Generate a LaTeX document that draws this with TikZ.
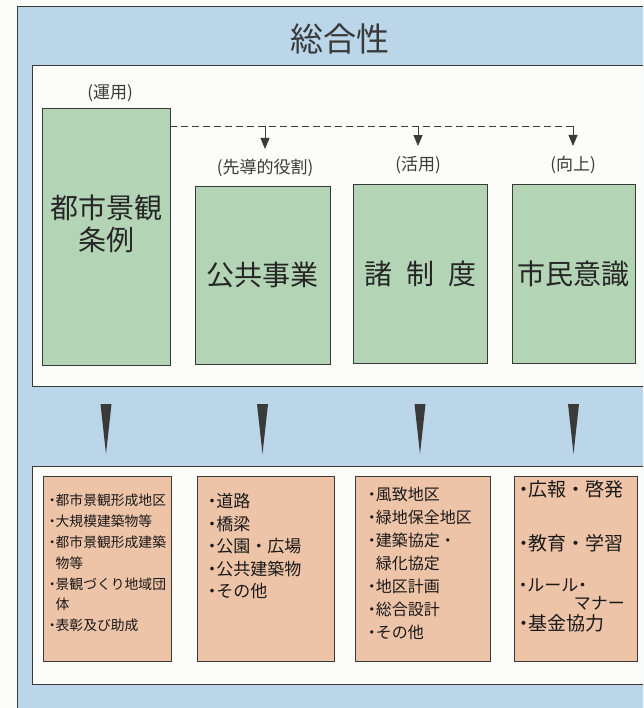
\documentclass[tikz,border=0pt]{standalone}
\usepackage{fontspec}
\setmainfont{Noto Sans CJK JP}
\usetikzlibrary{arrows.meta}

\definecolor{frameblue}{HTML}{BAD6E8}
\definecolor{boxgreen}{HTML}{B4D4B6}
\definecolor{boxorange}{HTML}{EEC4A8}
\definecolor{panelwhite}{HTML}{FCFCF8}
\definecolor{inkgray}{HTML}{3A3A3A}
\newcommand{\bul}{\makebox[.5em][c]{・}}
\newcommand{\fs}[2]{\fontsize{#1}{#2}\selectfont}

\begin{document}
\begin{tikzpicture}[x=1pt, y=-1pt,
  panel/.style={draw=inkgray, line width=1pt, fill=panelwhite},
  greenbox/.style={draw=inkgray, line width=0.9pt, fill=boxgreen, inner sep=0pt},
  orangebox/.style={draw=inkgray, line width=0.9pt, fill=boxorange, inner sep=0pt},
  role/.style={font=\fs{17}{20}, text=inkgray, inner sep=1pt},
  bigtext/.style={font=\fs{28}{32}, text=black!85},
  listtext/.style={anchor=north west, align=left, inner sep=0pt, text=black!90},
  dashline/.style={draw=inkgray, line width=0.8pt, dash pattern=on 7pt off 4pt},
  guide/.style={draw=inkgray, line width=0.8pt, -{Triangle[width=9pt,length=11pt]}, shorten >=9pt},
  wedge/.style={fill=inkgray}
]
\useasboundingbox (0,0) rectangle (643,708);
\clip (0,0) rectangle (643,708);
\fill[panelwhite] (0,0) rectangle (643,708);

% frame and the two panels
\draw[fill=frameblue, draw=inkgray, line width=1pt] (17,7) rectangle (690,740);
\draw[panel] (32,66) rectangle (690,386);
\draw[panel] (32,466) rectangle (690,684);

\node (title) at (340,39) [font=\fs{33}{36}, text=inkgray] {総合性};

% upper row
\node (A) at (106,236.5) [greenbox, minimum width=128pt, minimum height=257pt] {};
\node (Atext) at (106,224) [bigtext, align=center] {都市景観\\条例};
\node (B) at (262.5,275) [greenbox, bigtext, minimum width=135pt, minimum height=178pt] {公共事業};
\node (C) at (420,273.5) [greenbox, bigtext, minimum width=134pt, minimum height=179pt] {諸\hspace{.5em}制\hspace{.5em}度};
\node (D) at (573.5,273.5) [greenbox, bigtext, minimum width=123pt, minimum height=179pt] {市民意識};

\node (use) at (110,93) [role] {(運用)};
\node (lead) at (265,168) [role] {(先導的役割)};
\node (apply) at (418,165) [role] {(活用)};
\node (raise) at (573,165) [role] {(向上)};

\coordinate (start) at (A.east |- 0,126);
\coordinate (j1) at (lead.north |- start);
\coordinate (j2) at (apply.north |- start);
\coordinate (j3) at (raise.north |- start);

\draw (start) edge [dashline] (j3);
\draw (j1) edge [guide] (lead.north);
\draw (j2) edge [guide] (apply.north);
\draw (j3) edge [guide] (raise.north);

% lower row
\node (O1) at (107,568.5) [orangebox, minimum width=128pt, minimum height=185pt] {};
\node (O2) at (265.5,568.5) [orangebox, minimum width=137pt, minimum height=185pt] {};
\node (O3) at (422.5,568.5) [orangebox, minimum width=135pt, minimum height=185pt] {};
\node (O4) at (575.5,568.5) [orangebox, minimum width=123pt, minimum height=185pt] {};

\foreach \n in {A,B,C,D}
  \fill[wedge] ([xshift=-5.5pt]\n.south |- 0,404) -- ([xshift=5.5pt]\n.south |- 0,404) -- (\n.south |- 0,454) -- cycle;

\node (L1) at ([shift={(6,18.5)}]O1.north west) [listtext, font=\fs{13.8}{20.8}]
  {\bul 都市景観形成地区\\\bul 大規模建築物等\\\bul 都市景観形成建築\\\hphantom{\bul}物等\\\bul 景観づくり地域団\\\hphantom{\bul}体\\\bul 表彰及び助成};
\node (L2) at ([shift={(11,17.5)}]O2.north west) [listtext, font=\fs{17}{22.5}]
  {\bul 道路\\\bul 橋梁\\\bul 公園・広場\\\bul 公共建築物\\\bul その他};
\node (L3) at ([shift={(13,11)}]O3.north west) [listtext, font=\fs{16}{23}]
  {\bul 風致地区\\\bul 緑地保全地区\\\bul 建築協定・\\\hphantom{\bul}緑化協定\\\bul 地区計画\\\bul 総合設計\\\bul その他};
\node (L4) at ([shift={(5,4.5)}]O4.north west) [listtext, font=\fs{19}{21}]
  {\bul 広報・啓発\\[33pt]\bul 教育・学習\\[20pt]{\fs{17}{18}\bul ルール\bul}\\[-3pt]\hspace*{2.9em}{\fs{17}{18}マナー}\\\bul 基金協力};
\end{tikzpicture}
\end{document}
